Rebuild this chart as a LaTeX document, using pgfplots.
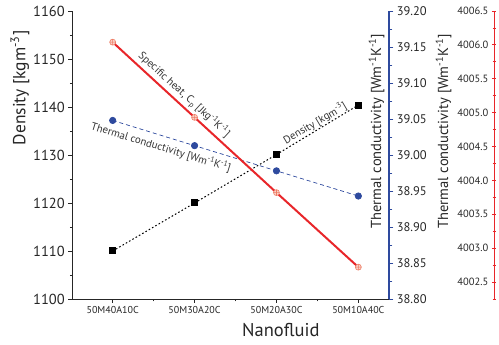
\documentclass[border=0pt]{standalone}
\usepackage{fontspec}
\setmainfont{PT Sans}
\usepackage{pgfplots}
\pgfplotsset{compat=1.18}
\definecolor{tcblue}{HTML}{2E4A9E}
\definecolor{cpred}{HTML}{E8262A}
\definecolor{cpmark}{HTML}{EE7D64}
\definecolor{txt}{HTML}{333333}
\newcommand{\fs}[1]{\fontsize{#1}{#1}\selectfont}
\begin{document}
\begin{tikzpicture}
\path[use as bounding box] (0,0) rectangle (499bp,345bp);
\pgfplotsset{
  base/.style={
    at={(72.3bp,46bp)}, anchor=south west,
    scale only axis, width=317bp, height=288bp,
    xmin=-0.493, xmax=3.378,
    /pgf/number format/assume math mode=true,
    /pgf/number format/1000 sep={},
  }
}
% density axis
\begin{axis}[base,
  ymin=1100, ymax=1160,
  axis x line*=bottom, axis y line*=left,
  axis line style={-, line width=0.8bp, black!85},
  xtick={0,1,2,3},
  xticklabels={50M40A10C,50M30A20C,50M20A30C,50M10A40C},
  minor xtick={0.5,1.5,2.5},
  ytick={1100,1110,1120,1130,1140,1150,1160},
  minor ytick={1105,1115,1125,1135,1145,1155},
  tick align=outside, major tick length=4bp, minor tick length=2.5bp,
  tick style={black!85, line width=0.8bp},
  xticklabel style={font=\fs{10bp}, text=black!85},
  yticklabel style={font=\fs{14.5bp}, text=black!85},
  xlabel={Nanofluid}, ylabel={Density [kgm\textsuperscript{-3}]},
  every axis x label/.style={at={(rel axis cs:0.658,-0.108)}, anchor=center, font=\fs{18.5bp}, text=black!85},
  every axis y label/.style={at={(rel axis cs:-0.165,0.733)}, anchor=center, rotate=90, font=\fs{17.5bp}, text=black!85},
  clip=false,
]
\addplot[black, line width=1bp, dash pattern=on 1.6bp off 2.2bp, mark=square*, mark size=3bp, mark options={solid}]
  coordinates {(0,1110) (1,1120) (2,1130.1) (3,1140.4)};
\node[rotate=30.7, font=\fs{10.8bp}, text=txt] at (axis cs:2.47,1136.6) {Density [kgm\textsuperscript{-3}]};
\node[rotate=-17, font=\fs{10.8bp}, text=txt] at (axis cs:0.59,1131.6) {Thermal conductivity [Wm\textsuperscript{-1}K\textsuperscript{-1}]};
\node[rotate=-42.5, font=\fs{10.8bp}, text=txt] at (axis cs:0.873,1142.6) {Specific heat, C\textsubscript{p} [Jkg\textsuperscript{-1}K\textsuperscript{-1}]};
\end{axis}
% thermal conductivity axis (blue)
\begin{axis}[base,
  ymin=38.8, ymax=39.2,
  axis y line*=right, axis x line=none,
  axis line style={-, line width=1.8bp, tcblue},
  ytick={38.80,38.85,38.90,38.95,39.00,39.05,39.10,39.15,39.20},
  minor ytick={38.825,38.875,38.925,38.975,39.025,39.075,39.125,39.175},
  tick align=outside, major tick length=4bp, minor tick length=3bp,
  y tick style={tcblue, line width=0.9bp},
  yticklabel style={font=\fs{12.5bp}, text=black!85, /pgf/number format/.cd, fixed, fixed zerofill, precision=2},
  ylabel={Thermal conductivity [Wm\textsuperscript{-1}K\textsuperscript{-1}]},
  every axis y label/.style={at={(axis description cs:1,0.583)}, anchor=center, xshift=-12.8bp, rotate=90, font=\fs{14.5bp}, text=black!85},
  clip=false,
]
\addplot[tcblue, line width=0.7bp, dash pattern=on 4bp off 3bp, mark=*, mark size=3.2bp, mark options={solid}]
  coordinates {(0,39.048) (1,39.013) (2,38.978) (3,38.943)};
\end{axis}
% specific heat plot (hidden axis)
\begin{axis}[base,
  ymin=4002.25, ymax=4006.5, hide axis, clip=false,
]
\addplot[cpred, line width=2bp, mark=oplus*, mark size=3bp, mark options={draw=cpmark, fill=cpmark!35, line width=0.6bp}]
  coordinates {(0,4006.04) (1,4004.93) (2,4003.82) (3,4002.72)};
\end{axis}
% red spine
\begin{axis}[
  at={(494bp,46bp)}, anchor=south west,
  scale only axis, width=1bp, height=288bp,
  xmin=0, xmax=1, ymin=4002.25, ymax=4006.5,
  axis y line*=left, axis x line=none,
  axis line style={-, line width=0.9bp, cpred},
  ytick={4002.5,4003,4003.5,4004,4004.5,4005,4005.5,4006,4006.5},
  minor ytick={4002.25,4002.75,4003.25,4003.75,4004.25,4004.75,4005.25,4005.75,4006.25},
  tick align=center, major tick length=4.5bp, minor tick length=3bp,
  y tick style={cpred, line width=0.8bp},
  /pgf/number format/assume math mode=true,
  yticklabel style={font=\fs{10.5bp}, text=black!85, /pgf/number format/.cd, fixed, fixed zerofill, precision=1, 1000 sep={}},
  ylabel={Thermal conductivity [Wm\textsuperscript{-1}K\textsuperscript{-1}]},
  every axis y label/.style={at={(axis description cs:0,0.583)}, anchor=center, xshift=-50.5bp, rotate=90, font=\fs{14.5bp}, text=black!85},
]
\end{axis}
\end{tikzpicture}
\end{document}
